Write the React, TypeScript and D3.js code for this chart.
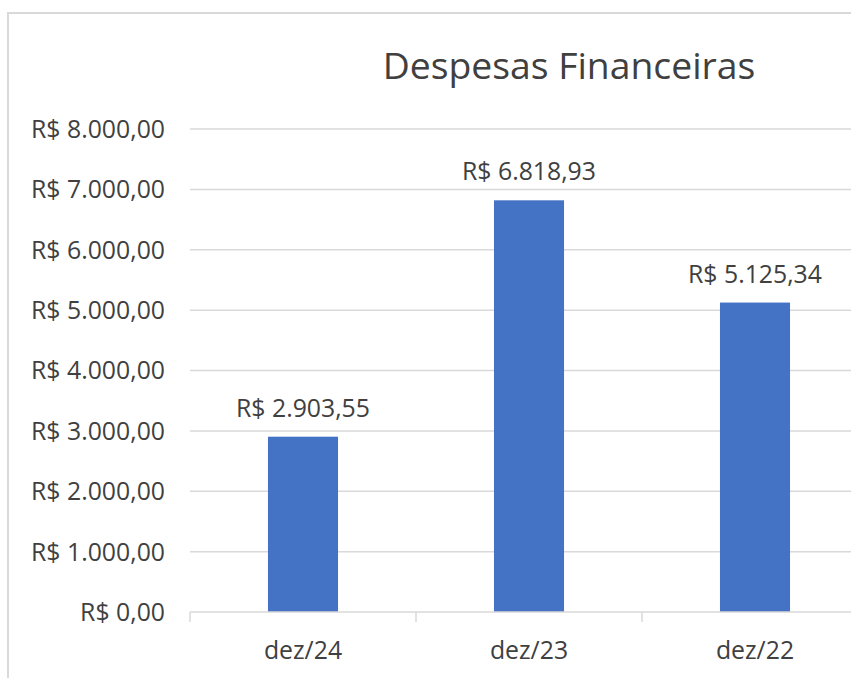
import React from "react";
import * as d3 from "d3";

const categories = ["dez/24", "dez/23", "dez/22"];
const values = [2903.55, 6818.93, 5125.34];
const yTicks = [0, 1000, 2000, 3000, 4000, 5000, 6000, 7000, 8000];
const title = "Despesas Financeiras";

const locale = d3.formatLocale({ decimal: ",", thousands: ".", grouping: [3], currency: ["R$ ", ""] });
const fmt = (v: number) => "R$ " + locale.format(",.2f")(v);

export default function App() {
  const W = 851, H = 678;
  const x = d3.scaleBand<string>().domain(categories).range([190, 868]).paddingInner(0.69).paddingOuter(0.345);
  const y = d3.scaleLinear().domain([0, 8000]).range([612, 129]);
  const font = "'Open Sans', 'Noto Sans', sans-serif";
  const textColor = "#404040";
  const step = x.step();
  const boundaries = [0, 1, 2, 3].map((i) => 190 + i * step);
  return (
    <svg width={W} height={H} style={{ position: "absolute", left: 0, top: 0, background: "#fff" }} fontFamily={font}>
      <rect x={0} y={0} width={W} height={H} fill="#fff" />
      <rect x={8} y={13} width={W + 20} height={H + 20} fill="none" stroke="#d9d9d9" strokeWidth={2} />
      <text x={569} y={79} textAnchor="middle" fontSize={37.3} fill={textColor}>{title}</text>
      {yTicks.map((t) => (
        <g key={t}>
          {t > 0 && <line x1={190} x2={W} y1={y(t)} y2={y(t)} stroke="#d9d9d9" strokeWidth={1.5} />}
          <text x={165} y={y(t)} dy="0.36em" textAnchor="end" fontSize={24.8} fill={textColor}>{fmt(t)}</text>
        </g>
      ))}
      {categories.map((c, i) => (
        <g key={c}>
          <rect x={x(c)} y={y(values[i])} width={x.bandwidth()} height={y(0) - y(values[i])} fill="#4472C4" />
          <text x={(x(c) as number) + x.bandwidth() / 2} y={y(values[i]) - 20} textAnchor="middle" fontSize={24.8} fill={textColor}>{fmt(values[i])}</text>
          <text x={(x(c) as number) + x.bandwidth() / 2} y={659} textAnchor="middle" fontSize={24.8} fill={textColor}>{c}</text>
        </g>
      ))}
      <line x1={190} x2={W} y1={y(0)} y2={y(0)} stroke="#d9d9d9" strokeWidth={1.5} />
      {boundaries.map((b, i) => (
        <line key={i} x1={b} x2={b} y1={y(0)} y2={y(0) + 10} stroke="#d9d9d9" strokeWidth={1.5} />
      ))}
    </svg>
  );
}
